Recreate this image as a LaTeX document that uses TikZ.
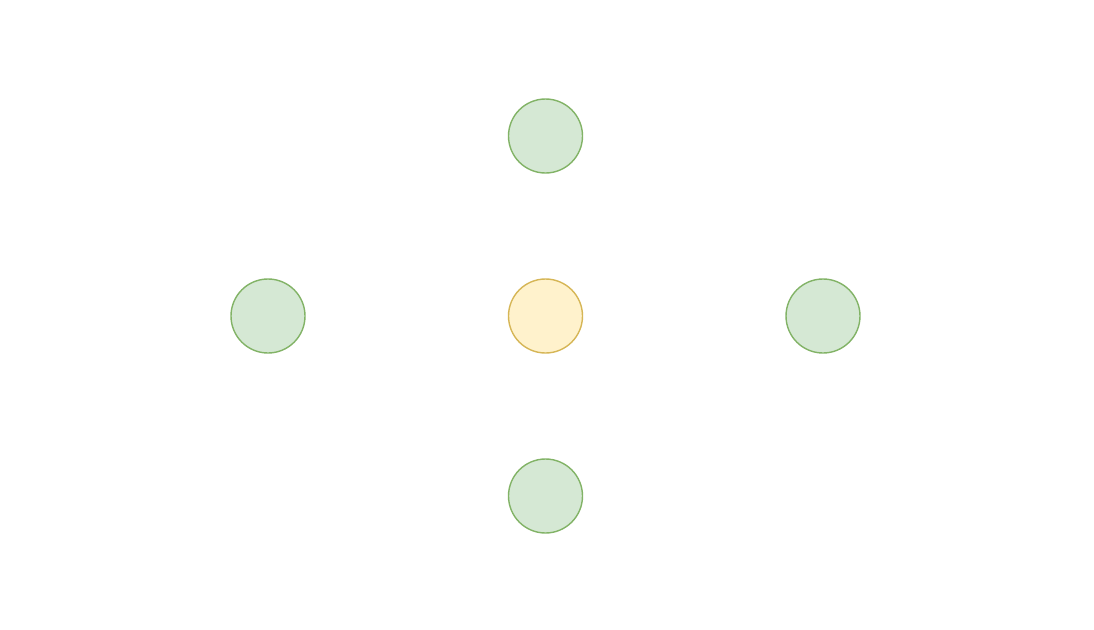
\documentclass[tikz,border=0pt]{standalone}
\definecolor{gfill}{HTML}{D5E8D4}
\definecolor{gline}{HTML}{82B366}
\definecolor{yfill}{HTML}{FFF2CC}
\definecolor{yline}{HTML}{D6B656}
\begin{document}
\begin{tikzpicture}[x=1pt,y=-1pt,
  gnode/.style={circle,draw=gline,fill=gfill,line width=1.4pt,minimum size=74pt,inner sep=0pt},
  ynode/.style={circle,draw=yline,fill=yfill,line width=1.4pt,minimum size=74pt,inner sep=0pt}]
\useasboundingbox[fill=white] (0,0) rectangle (1094,629);
\node[gnode] (top) at (545.5,136) {};
\node[gnode] (left) at (268,316) {};
\node[ynode] (center) at (545.5,316) {};
\node[gnode] (right) at (823,316) {};
\node[gnode] (bottom) at (545.5,496) {};
\end{tikzpicture}
\end{document}
